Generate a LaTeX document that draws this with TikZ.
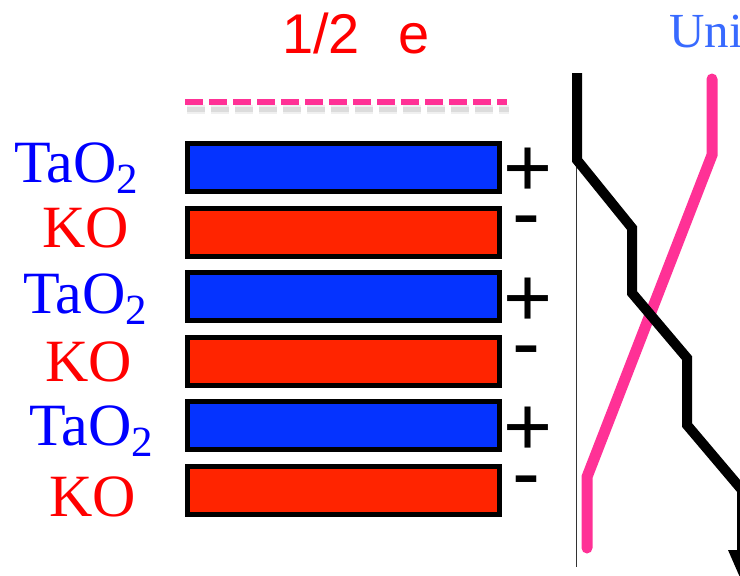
\documentclass[tikz,border=0pt]{standalone}
\usepackage{fontspec}
\setmainfont{Liberation Serif}
\newfontfamily\arialfont{Liberation Sans}
\definecolor{barblue}{RGB}{5,51,255}
\definecolor{barred}{RGB}{255,36,0}
\definecolor{lblblue}{RGB}{0,0,255}
\definecolor{lblred}{RGB}{255,0,0}
\definecolor{unicol}{RGB}{56,106,255}
\definecolor{pinkline}{RGB}{255,49,150}
\tikzset{
  bar/.style={draw=black, line width=5pt, minimum width=312pt, minimum height=48pt, inner sep=0pt, outer sep=0pt},
  lbl/.style={anchor=base west, inner sep=0pt, font=\fontsize{60}{60}\selectfont},
  plussign/.style={anchor=base west, inner sep=0pt, text height=0.6em, text depth=0pt, font=\arialfont\fontsize{84}{84}\selectfont},
  minussign/.style={anchor=base west, inner sep=0pt, text height=0.33em, text depth=0pt, font=\arialfont\fontsize{84}{84}\selectfont},
  pinkpath/.style={draw=pinkline, line width=11pt, line cap=round, line join=miter},
  blackpath/.style={draw=black, line width=10pt, line join=miter},
}
\newcommand{\TaOtwo}{TaO\raisebox{-11pt}{\fontsize{43}{43}\selectfont 2}}
\begin{document}
\begin{tikzpicture}[x=1pt,y=-1pt]
\useasboundingbox (0,0) rectangle (740,576);
% title texts
\node[anchor=base west, inner sep=0pt, text=lblred, font=\arialfont\fontsize{56}{56}\selectfont] (half) at (282,53) {1/2\hspace{38pt}e};
\node[anchor=base west, inner sep=0pt, text=unicol, font=\fontsize{49}{49}\selectfont] (uni) at (669,47) {Uni};
% dashed line with soft shadow
\draw[gray, opacity=0.12, line width=9pt, dash pattern=on 18pt off 6pt] (187,109) -- (509,109);
\draw[gray, opacity=0.18, line width=5pt, dash pattern=on 18pt off 6pt] (187,109) -- (509,109);
\draw[pinkline, line width=6pt, dash pattern=on 18pt off 6pt] (185,102) -- (507,102);
% bars
\node[bar, fill=barblue] (b1) at (343,167.5) {};
\node[bar, fill=barred]  (b2) at (343,232.1) {};
\node[bar, fill=barblue] (b3) at (343,296.7) {};
\node[bar, fill=barred]  (b4) at (343,361.3) {};
\node[bar, fill=barblue] (b5) at (343,425.9) {};
\node[bar, fill=barred]  (b6) at (343,490.5) {};
% labels
\node[lbl, text=lblblue] (l1) at (14,182) {\TaOtwo};
\node[lbl, text=lblred]  (l2) at (42,247) {KO};
\node[lbl, text=lblblue] (l3) at (23,313.5) {\TaOtwo};
\node[lbl, text=lblred]  (l4) at (45,381) {KO};
\node[lbl, text=lblblue] (l5) at (29,445) {\TaOtwo};
\node[lbl, text=lblred]  (l6) at (49,516) {KO};
% signs
\node[plussign]  (p1) at (503.5,196) {+};
\node[minussign] (m1) at (512.5,241) {-};
\node[plussign]  (p2) at (503.5,326) {+};
\node[minussign] (m2) at (512.5,371) {-};
\node[plussign]  (p3) at (503.5,455) {+};
\node[minussign] (m3) at (512.5,501) {-};
% axis
\coordinate (ax0) at (576,75);
\coordinate (ax1) at (576,567);
\draw[black!80, line width=1pt] (ax0) -- (ax1);
% pink profile
\coordinate (pk0) at (712,79);
\coordinate (pk1) at (712,155);
\coordinate (pk2) at (587,477);
\coordinate (pk3) at (587,548);
\draw[pinkpath] (pk0) -- (pk1) -- (pk2) -- (pk3);
% black profile
\coordinate (k0) at (577,73);
\coordinate (k1) at (577,160);
\coordinate (k2) at (632,228);
\coordinate (k3) at (632,293);
\coordinate (k4) at (687,358);
\coordinate (k5) at (687,425);
\coordinate (k6) at (742,490);
\coordinate (k7) at (742,552);
\draw[blackpath] (k0) -- (k1) -- (k2) -- (k3) -- (k4) -- (k5) -- (k6) -- (k7);
\fill[black] (728,550) -- (756,550) -- (742,582) -- cycle;
\end{tikzpicture}
\end{document}
